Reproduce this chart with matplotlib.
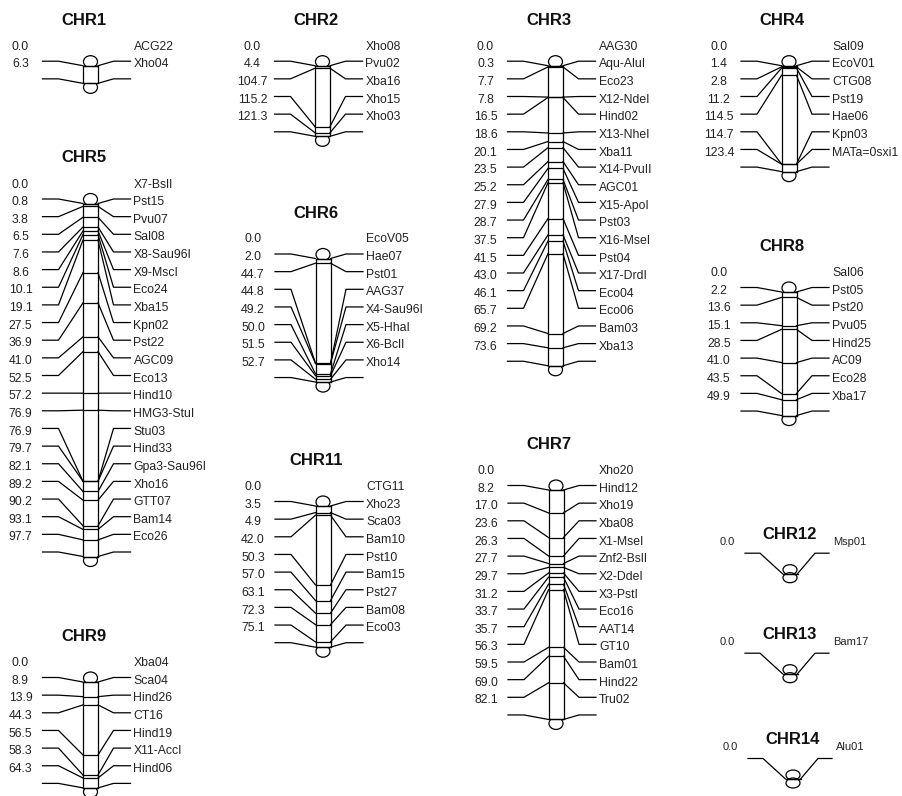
import matplotlib
matplotlib.use("Agg")
import matplotlib.pyplot as plt
from matplotlib.patches import Ellipse, Rectangle

plt.rcParams['font.family'] = ['Liberation Sans', 'DejaVu Sans']

# ---- data: marker names and positions (cM) per linkage group ----
chr1_names = ["ACG22", "Xho04"]
chr1_cm = [0.0, 6.3]

chr2_names = ["Xho08", "Pvu02", "Xba16", "Xho15", "Xho03"]
chr2_cm = [0.0, 4.4, 104.7, 115.2, 121.3]

chr3_names = ["AAG30", "Aqu-AluI", "Eco23", "X12-NdeI", "Hind02", "X13-NheI",
              "Xba11", "X14-PvuII", "AGC01", "X15-ApoI", "Pst03", "X16-MseI",
              "Pst04", "X17-DrdI", "Eco04", "Eco06", "Bam03", "Xba13"]
chr3_cm = [0.0, 0.3, 7.7, 7.8, 16.5, 18.6, 20.1, 23.5, 25.2, 27.9, 28.7,
           37.5, 41.5, 43.0, 46.1, 65.7, 69.2, 73.6]

chr4_names = ["Sal09", "EcoV01", "CTG08", "Pst19", "Hae06", "Kpn03", "MATa=0sxi1"]
chr4_cm = [0.0, 1.4, 2.8, 11.2, 114.5, 114.7, 123.4]

chr5_names = ["X7-BslI", "Pst15", "Pvu07", "Sal08", "X8-Sau96I", "X9-MscI",
              "Eco24", "Xba15", "Kpn02", "Pst22", "AGC09", "Eco13", "Hind10",
              "HMG3-StuI", "Stu03", "Hind33", "Gpa3-Sau96I", "Xho16", "GTT07",
              "Bam14", "Eco26"]
chr5_cm = [0.0, 0.8, 3.8, 6.5, 7.6, 8.6, 10.1, 19.1, 27.5, 36.9, 41.0, 52.5,
           57.2, 76.9, 76.9, 79.7, 82.1, 89.2, 90.2, 93.1, 97.7]

chr6_names = ["EcoV05", "Hae07", "Pst01", "AAG37", "X4-Sau96I", "X5-HhaI",
              "X6-BclI", "Xho14"]
chr6_cm = [0.0, 2.0, 44.7, 44.8, 49.2, 50.0, 51.5, 52.7]

chr7_names = ["Xho20", "Hind12", "Xho19", "Xba08", "X1-MseI", "Znf2-BslI",
              "X2-DdeI", "X3-PstI", "Eco16", "AAT14", "GT10", "Bam01",
              "Hind22", "Tru02"]
chr7_cm = [0.0, 8.2, 17.0, 23.6, 26.3, 27.7, 29.7, 31.2, 33.7, 35.7, 56.3,
           59.5, 69.0, 82.1]

chr8_names = ["Sal06", "Pst05", "Pst20", "Pvu05", "Hind25", "AC09", "Eco28", "Xba17"]
chr8_cm = [0.0, 2.2, 13.6, 15.1, 28.5, 41.0, 43.5, 49.9]

chr9_names = ["Xba04", "Sca04", "Hind26", "CT16", "Hind19", "X11-AccI", "Hind06"]
chr9_cm = [0.0, 8.9, 13.9, 44.3, 56.5, 58.3, 64.3]

chr11_names = ["CTG11", "Xho23", "Sca03", "Bam10", "Pst10", "Bam15", "Pst27",
               "Bam08", "Eco03"]
chr11_cm = [0.0, 3.5, 4.9, 42.0, 50.3, 57.0, 63.1, 72.3, 75.1]

chr12_names = ["Msp01"]
chr12_cm = [0.0]
chr13_names = ["Bam17"]
chr13_cm = [0.0]
chr14_names = ["Alu01"]
chr14_cm = [0.0]

groups = [("CHR1", chr1_names, chr1_cm), ("CHR2", chr2_names, chr2_cm),
          ("CHR3", chr3_names, chr3_cm), ("CHR4", chr4_names, chr4_cm),
          ("CHR5", chr5_names, chr5_cm), ("CHR6", chr6_names, chr6_cm),
          ("CHR7", chr7_names, chr7_cm), ("CHR8", chr8_names, chr8_cm),
          ("CHR9", chr9_names, chr9_cm), ("CHR11", chr11_names, chr11_cm),
          ("CHR12", chr12_names, chr12_cm), ("CHR13", chr13_names, chr13_cm),
          ("CHR14", chr14_names, chr14_cm)]

# ---- layout (pixels): bar centre x, y of first label row ----
layout = {"CHR1": (90.5, 46.7), "CHR2": (322.5, 46.7), "CHR3": (555.5, 46.7),
          "CHR4": (789, 46.7), "CHR5": (90.5, 184.5), "CHR6": (323, 239.5),
          "CHR7": (556, 471), "CHR8": (789, 273), "CHR9": (90.5, 663),
          "CHR11": (323, 487), "CHR12": (790, 541.7), "CHR13": (790, 641.7),
          "CHR14": (793, 747)}

DY = 17.65      # label row spacing
BAR_W = 15
LW = 0.9
TXT = "#222222"

fig = plt.figure(figsize=(9.02, 7.96), dpi=100)
ax = fig.add_axes([0, 0, 1, 1])
ax.set_xlim(0, 902)
ax.set_ylim(796, 0)
ax.axis("off")


def draw_group(title, names, cm, c, y0):
    n = len(names)
    hw = BAR_W / 2.0
    if n > 1:
        stub_off, bar_off, title_off = 14.5, 19.0, -26.5
        lx0, lx1, rx0, rx1, num_x = -48, -32, 23, 40, -70
        fs, tdx, cap_h = 8.8, -7, 12
    else:
        stub_off, bar_off, title_off = 11.5, 32.0, -7
        lx0, lx1, rx0, rx1, num_x = -45, -30, 25, 39, -63
        fs, tdx, cap_h = 8.0, 0, 10
    length = (n - 1) * DY
    top = y0 + bar_off
    bot = top + length
    span = max(cm[-1], 1e-9)
    ybar = [top + p / span * length for p in cm]

    ax.text(c + tdx, y0 + title_off, title, ha="center", va="center",
            fontsize=12, fontweight="bold", color="#111111")

    # end caps, then the bar body
    ax.add_patch(Ellipse((c, top - 4), BAR_W - 1, cap_h, fc="white", ec="black", lw=LW, zorder=2))
    ax.add_patch(Ellipse((c, bot + 4), BAR_W - 1, cap_h, fc="white", ec="black", lw=LW, zorder=2))
    ax.add_patch(Rectangle((c - hw, top), BAR_W, length, fc="white", ec="black", lw=LW, zorder=3))

    for i in range(n):
        yt = y0 + i * DY
        ys = yt + stub_off
        yb = ybar[i]
        ax.text(c + num_x, yt, "%.1f" % cm[i], ha="center", va="center",
                fontsize=fs, color=TXT)
        ax.text(c + 43, yt, names[i], ha="left", va="center",
                fontsize=fs, color=TXT)
        ax.plot([c + lx0, c + lx1, c - hw], [ys, ys, yb], color="black", lw=LW, zorder=4)
        ax.plot([c + hw, c + rx0, c + rx1], [yb, ys, ys], color="black", lw=LW, zorder=4)
        ax.plot([c - hw, c + hw], [yb, yb], color="black", lw=LW, zorder=4)


for title, names, cm in groups:
    cx, ry = layout[title]
    draw_group(title, names, cm, cx, ry)

fig.savefig("out.png", dpi=100, facecolor="white")
